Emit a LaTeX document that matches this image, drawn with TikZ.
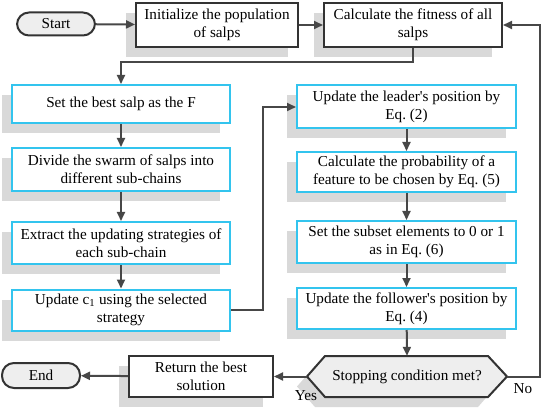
\documentclass[tikz,border=0pt]{standalone}
\usepackage{fontspec}
\setmainfont{Liberation Serif}
\usetikzlibrary{arrows.meta,shadows,calc}
\definecolor{cyanb}{RGB}{51,196,238}
\definecolor{darkb}{RGB}{51,51,51}
\definecolor{shadowg}{RGB}{217,217,217}
\definecolor{pillg}{RGB}{238,238,238}
\frenchspacing
\tikzset{
  txt/.style={font=\fontsize{15.2}{18}\selectfont, align=center, inner sep=2pt},
  shad/.style={drop shadow={shadow xshift=-10pt, shadow yshift=-10pt, fill=shadowg, opacity=1}},
  whitebox/.style={txt, draw=darkb, line width=2pt, fill=white, shad},
  cyanbox/.style={txt, draw=cyanb, line width=2pt, fill=white, shad, minimum width=218pt},
  pill/.style={txt, draw=darkb, line width=2pt, fill=pillg, rounded corners=12pt, minimum width=78pt},
  conn/.style={draw=darkb!90, line width=2pt, -{Triangle[length=9pt,width=8pt]}},
  lbl/.style={font=\fontsize{15.2}{16}\selectfont, inner sep=0pt}
}
\begin{document}
\begin{tikzpicture}[x=1pt,y=-1pt]
\useasboundingbox (0,0) rectangle (544,409);
% top row
\node[pill, minimum height=23pt] (start) at (56,24) {Start};
\node[whitebox, minimum width=162pt, minimum height=44pt] (init) at (217,25) {Initialize the population\\of salps};
\node[whitebox, minimum width=178pt, minimum height=44pt] (fit) at (413,25) {Calculate the fitness of all\\salps};
% left column
\node[cyanbox, minimum height=38pt] (best) at (121,104) {Set the best salp as the F};
\node[cyanbox, minimum height=43pt] (div) at (121,169.5) {Divide the swarm of salps into\\different sub-chains};
\node[cyanbox, minimum height=42pt] (ext) at (121,243) {Extract the updating strategies of\\each sub-chain};
\node[cyanbox, minimum height=41pt] (upc) at (121,310) {Update c\textsubscript{1} using the selected\\strategy};
% right column
\node[cyanbox, minimum width=219pt, minimum height=43pt] (lead) at (406.5,107) {Update the leader\textquotesingle s position by\\Eq. (2)};
\node[cyanbox, minimum width=219pt, minimum height=40pt] (prob) at (406.5,172) {Calculate the probability of a\\feature to be chosen by Eq. (5)};
\node[cyanbox, minimum width=219pt, minimum height=42pt] (sub) at (406.5,242) {Set the subset elements to 0 or 1\\as in Eq. (6)};
\node[cyanbox, minimum width=219pt, minimum height=41pt] (fol) at (406.5,308.5) {Update the follower\textquotesingle s position by\\Eq. (4)};
% hexagon
\fill[shadowg] (297,386.5) -- (315,366) -- (478,366) -- (496,386.5) -- (478,407) -- (315,407) -- cycle;
\filldraw[fill=pillg, draw=darkb, line width=2pt] (307,376.5) -- (325,356) -- (488,356) -- (507,376.5) -- (488,397) -- (325,397) -- cycle;
\node[txt, minimum width=200pt, minimum height=41pt] (stop) at (407,376.5) {Stopping condition met?};
% bottom row
\node[whitebox, minimum width=144pt, minimum height=41pt] (ret) at (201,376.5) {Return the best\\solution};
\node[pill, minimum height=25pt] (end) at (41,375.5) {End};
% connectors
\draw[conn] (start) -- (init);
\draw[conn] (init) -- (fit);
\draw[conn] (fit.south) |- (122,62) -- (122,62 -| best.north) -- (best.north);
\draw[conn] (best) -- (div);
\draw[conn] (div) -- (ext);
\draw[conn] (ext) -- (upc);
\coordinate (k1) at (263,310);
\draw[conn] (upc.east) -- (k1) |- (lead.west);
\draw[conn] (lead) -- (prob);
\draw[conn] (prob) -- (sub);
\draw[conn] (sub) -- (fol);
\draw[conn] (fol) -- (stop.north);
\draw[conn] (stop.west) -- (ret.east);
\draw[conn] (ret) -- (end);
\coordinate (k2) at (540,376.5);
\draw[conn] (stop.east) -- (k2) |- (fit.east);
\node[lbl] (yes) at (306,396) {Yes};
\node[lbl] (no) at (523,389) {No};
\end{tikzpicture}
\end{document}
